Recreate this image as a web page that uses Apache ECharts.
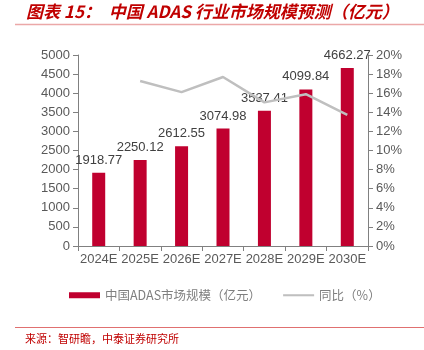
<!DOCTYPE html>
<html><head><meta charset="utf-8">
<script src="https://cdn.jsdelivr.net/npm/echarts@6/dist/echarts.min.js"></script>
<style>html,body{margin:0;padding:0;background:#fff}#c{width:424px;height:350px}</style>
</head><body><div id="c"></div>
<script>
const categories = ['2024E','2025E','2026E','2027E','2028E','2029E','2030E'];
const marketSize = [1918.77, 2250.12, 2612.55, 3074.98, 3537.41, 4099.84, 4662.27];
const yoy = [null, 17.27, 16.11, 17.70, 15.04, 15.90, 13.72];
const leftTicks = {min: 0, max: 5000, interval: 500};
const rightTicks = {min: 0, max: 20, interval: 2};

const chart = echarts.init(document.getElementById('c'));
const font = 'Liberation Sans, Arial, sans-serif';
chart.setOption({
  animation: false,
  textStyle: {fontFamily: font},
  graphic: [
    {type: 'text', left: 26, top: 3, style: {text: '图表 15：  中国 ADAS 行业市场规模预测（亿元）', fill: '#C00000', font: 'italic bold 17px "Noto Sans CJK SC", sans-serif'}},
    {type: 'line', shape: {x1: 15, y1: 24.5, x2: 424, y2: 24.5}, style: {stroke: '#EBA8A8', lineWidth: 1.5}},
    {type: 'line', shape: {x1: 15, y1: 327.5, x2: 424, y2: 327.5}, style: {stroke: '#E07070', lineWidth: 1}},
    {type: 'text', left: 25, top: 333, style: {text: '来源：智研瞻，中泰证券研究所', fill: '#C00000', font: '11px "Noto Sans CJK SC", sans-serif'}}
  ],
  legend: {
    top: 284, left: 64,
    itemGap: 22,
    textStyle: {color: '#7F7F7F', fontSize: 12.5, fontFamily: '"Noto Sans CJK SC", sans-serif'},
    data: [
      {name: '中国ADAS市场规模（亿元）', icon: 'rect', itemStyle: {color: '#C0002F'}},
      {name: '同比（%）', icon: 'path://M0,0 L30,0 L30,2 L0,2 Z', itemStyle: {color: '#BFBFBF'}}
    ],
    itemWidth: 31, itemHeight: 6
  },
  grid: {left: 78, right: 56, top: 55, bottom: 104},
  xAxis: {
    type: 'category', data: categories,
    axisLine: {lineStyle: {color: '#808080'}},
    axisTick: {show: true, alignWithLabel: false, lineStyle: {color: '#808080'}},
    axisLabel: {color: '#595959', fontSize: 13, margin: 7, interval: 0}
  },
  yAxis: [
    {type: 'value', min: leftTicks.min, max: leftTicks.max, interval: leftTicks.interval,
     axisLine: {show: true, lineStyle: {color: '#808080'}},
     axisTick: {show: true, lineStyle: {color: '#808080'}},
     splitLine: {show: false},
     axisLabel: {color: '#595959', fontSize: 13, margin: 8, formatter: v => String(v)}},
    {type: 'value', min: rightTicks.min, max: rightTicks.max, interval: rightTicks.interval,
     position: 'right',
     axisLine: {show: true, lineStyle: {color: '#808080'}},
     axisTick: {show: true, lineStyle: {color: '#808080'}},
     splitLine: {show: false},
     axisLabel: {color: '#595959', fontSize: 13, margin: 8, formatter: '{value}%'}}
  ],
  series: [
    {name: '中国ADAS市场规模（亿元）', type: 'bar', data: marketSize, barWidth: 13,
     itemStyle: {color: '#C0002F'},
     label: {show: true, position: 'top', distance: 6, color: '#404040', fontSize: 13,
       formatter: p => p.value.toFixed(2)}},
    {name: '同比（%）', type: 'line', yAxisIndex: 1, data: yoy, symbol: 'none',
     lineStyle: {color: '#BFBFBF', width: 2.5}, itemStyle: {color: '#BFBFBF'}}
  ]
});
</script></body></html>
